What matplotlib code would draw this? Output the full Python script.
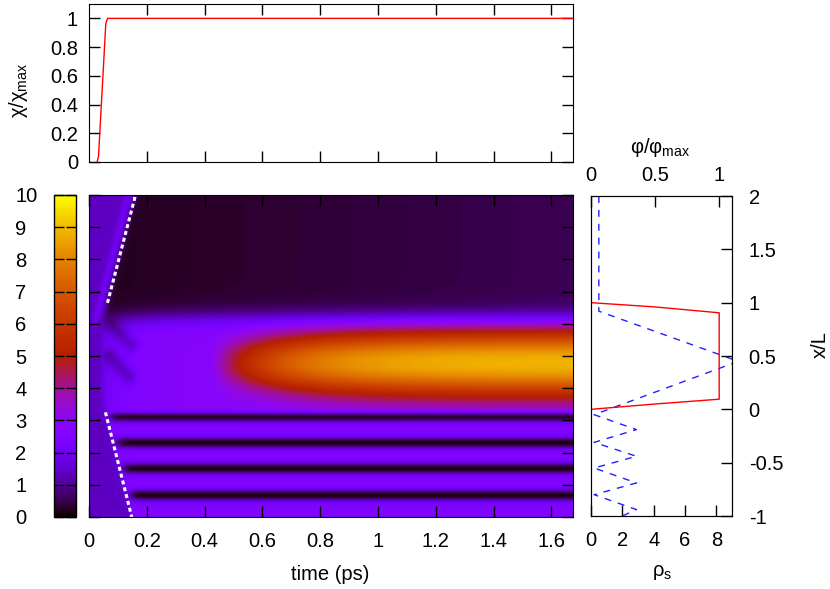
import numpy as np
import matplotlib
matplotlib.use("Agg")
import matplotlib.pyplot as plt
from matplotlib.ticker import FuncFormatter

plt.rcParams['font.family'] = ['Liberation Sans', 'DejaVu Sans']
plt.rcParams['font.size'] = 14.5
plt.rcParams['mathtext.fontset'] = 'custom'
plt.rcParams['mathtext.rm'] = 'Liberation Sans'
plt.rcParams['mathtext.it'] = 'Liberation Sans:italic'

# --- top panel: coupling ramp chi/chi_max vs time
chi_t = [0.028, 0.033, 0.058, 0.064, 1.675]
chi_val = [0.0, 0.04, 0.96, 1.0, 1.0]

# --- right panel: profiles vs x/L
phi_xL = [1.0, 0.96, 0.905, 0.095, 0.05, 0.0]
phi_val = [0.0, 0.5, 1.0, 1.0, 0.5, 0.0]
rho_xL = [2.0, 1.0, 0.92, 0.45, -0.05, -0.19, -0.31, -0.44, -0.55, -0.69, -0.80, -0.94, -1.0]
rho_val = [0.5, 0.5, 0.5, 9.4, 0.2, 2.9, 0.2, 2.9, 0.2, 2.9, 0.2, 2.9, 2.0]

# --- heatmap: fronts (white dashed lines) and features
front_up_t = [0.064, 0.161]
front_up_y = [6.65, 10.0]
front_lo_t = [0.057, 0.148]
front_lo_y = [3.25, 0.0]
stripe_y = [3.12, 2.30, 1.50, 0.67]
streak_t = [[0.08, 0.145], [0.072, 0.14]]
streak_y = [[5.95, 5.35], [5.0, 4.35]]
pre_level = 1.4
ridge_level = 0.6
dark_level = [0.2, 0.55]      # at t=0 and t=tmax
band_level = 2.8
low_level = 2.6
stripe_depth = 2.5
band_top = 6.2
blob_center = 4.78
blob_amp = 6.1
blob_t0 = 0.42
blob_tau = 0.22
blob_width = 1.05

tmax = 1.675


def sig(z):
    return 0.5 * (1.0 + np.tanh(z / 2.0))


def build_field():
    t = np.linspace(0, tmax, 600)
    y = np.linspace(0, 10, 500)
    T, Y = np.meshgrid(t, y)

    up_slope = (front_up_y[1] - front_up_y[0]) / (front_up_t[1] - front_up_t[0])
    lo_slope = (front_lo_y[0] - front_lo_y[1]) / (front_lo_t[1] - front_lo_t[0])
    t_front = np.where(Y > 4.8,
                       front_up_t[0] + (Y - front_up_y[0]) / up_slope,
                       front_lo_t[0] + (front_lo_y[0] - Y) / lo_slope)
    t_front = np.maximum(t_front, 0.045)
    m_front = sig((T - t_front) / 0.005)

    # before the front
    ridge = ridge_level * np.exp(-((T - (t_front - 0.027)) / 0.013) ** 2) * sig((Y - 6.0) / 0.1)
    v_pre = pre_level + ridge

    # after the front
    v_up = dark_level[0] + (dark_level[1] - dark_level[0]) * T / tmax
    dt = np.clip(T - blob_t0, 0, None)
    amp = blob_amp * (1 - np.exp(-dt / blob_tau))
    wid = blob_width * (0.6 + 0.4 * (1 - np.exp(-dt / 0.25)))
    blob = amp * np.exp(-np.abs((Y - blob_center) / wid) ** 2.2)
    v_band = band_level - 0.8 * np.exp(-np.clip(T - 0.05, 0, None) / 0.08) + blob

    # dark X-shaped streaks near the start
    k = 8.97
    for st, sy in zip(streak_t, streak_y):
        p0 = np.array([st[0] * k, sy[0]])
        p1 = np.array([st[1] * k, sy[1]])
        d = p1 - p0
        u = np.clip(((T * k - p0[0]) * d[0] + (Y - p0[1]) * d[1]) / (d @ d), 0, 1)
        dist2 = (T * k - p0[0] - u * d[0]) ** 2 + (Y - p0[1] - u * d[1]) ** 2
        v_band = v_band - 1.0 * np.exp(-dist2 / (2 * 0.18 ** 2))

    v_low = np.full_like(T, low_level)
    for sy0 in stripe_y:
        t_start = front_lo_t[0] + (front_lo_y[0] - sy0) / lo_slope + 0.008
        v_low = v_low - stripe_depth * sig((T - t_start) / 0.01) * \
            np.exp(-0.5 * ((Y - sy0) / 0.13) ** 2)

    top_edge = band_top - 0.2 * np.exp(-T / 0.15)
    w_up = sig((Y - top_edge) / 0.17)
    w_low = sig((3.25 - Y) / 0.05)
    v_mid = w_low * v_low + (1 - w_low) * v_band
    v_after = w_up * v_up + (1 - w_up) * v_mid

    return m_front * v_after + (1 - m_front) * v_pre


W, H = 830, 589
fig = plt.figure(figsize=(W / 100, H / 100), dpi=100)


def box(l, t, r, b):
    return [l / W, 1 - b / H, (r - l) / W, (b - t) / H]


gfmt = FuncFormatter(lambda v, p: '%g' % round(v, 3))

# top panel
ax_top = fig.add_axes(box(89, 4, 573, 162))
ax_top.plot(chi_t, chi_val, color='red', lw=1)
ax_top.set_xlim(0, tmax)
ax_top.set_ylim(0, 1.1)
ax_top.set_xticks(np.arange(0.2, 1.61, 0.2))
ax_top.set_xticklabels([])
ax_top.set_yticks(np.arange(0, 1.01, 0.2))
ax_top.yaxis.set_major_formatter(gfmt)
ax_top.tick_params(direction='in', length=8, width=1, top=True, right=True, pad=8)
fig.text(18 / W, 1 - 90 / H, r'$\mathrm{χ/χ_{max}}$', rotation=90, ha='center', va='center')

# heatmap
ax = fig.add_axes(box(89, 195, 573, 517))
field = build_field()
im = ax.imshow(field, origin='lower', extent=[0, tmax, 0, 10], aspect='auto',
               cmap='gnuplot', vmin=0, vmax=10, interpolation='bilinear')
ax.plot(front_up_t, front_up_y, color='white', lw=2.2, dashes=(1.3, 1.0))
ax.plot(front_lo_t, front_lo_y, color='white', lw=2.2, dashes=(1.3, 1.0))
ax.set_xlim(0, tmax)
ax.set_ylim(0, 10)
ax.set_xticks(np.arange(0, 1.61, 0.2))
ax.xaxis.set_major_formatter(gfmt)
ax.set_yticks(range(11))
ax.set_yticklabels([])
ax.tick_params(direction='in', length=8, width=1, top=True, right=True, pad=11)
fig.text(330 / W, 1 - 575 / H, 'time (ps)', ha='center', va='center')

# colorbar
cax = fig.add_axes(box(54, 195, 76, 517))
cb = fig.colorbar(im, cax=cax, ticks=range(11), ticklocation='left')
cb.outline.set_linewidth(1)
cax.tick_params(axis='y', direction='in', length=7, width=1, left=True, right=True,
                labelleft=True, labelright=False, pad=28)
for lbl in cax.get_yticklabels():
    lbl.set_horizontalalignment('left')

# right panel
ax_r = fig.add_axes(box(591, 196, 732, 516))
ax_r.plot(rho_val, rho_xL, color='#2020ff', lw=1, dashes=(5, 5))
ax_r.set_xlim(0, 9)
ax_r.set_ylim(-1, 2)
ax_r.set_xticks([0, 2, 4, 6, 8])
ax_r.yaxis.tick_right()
ax_r.set_yticks(np.arange(-1, 2.01, 0.5))
ax_r.yaxis.set_major_formatter(gfmt)
ax_r.tick_params(direction='in', length=8, width=1, left=False, top=False, pad=11)
ax_r.tick_params(axis='y', pad=12)

ax_p = ax_r.twiny()
ax_p.plot(phi_val, phi_xL, color='red', lw=1)
ax_p.set_xlim(0, 1.1)
ax_p.set_xticks([0, 0.5, 1])
ax_p.xaxis.set_major_formatter(gfmt)
ax_p.tick_params(direction='in', length=8, width=1, pad=8)

fig.text(660 / W, 1 - 148 / H, r'$\mathrm{φ/φ_{max}}$', ha='center', va='center')
fig.text(662 / W, 1 - 572 / H, r'$\mathrm{ρ_s}$', ha='center', va='center')
fig.text(820 / W, 1 - 345 / H, 'x/L', rotation=90, ha='center', va='center')

fig.savefig('out.png', dpi=100)
